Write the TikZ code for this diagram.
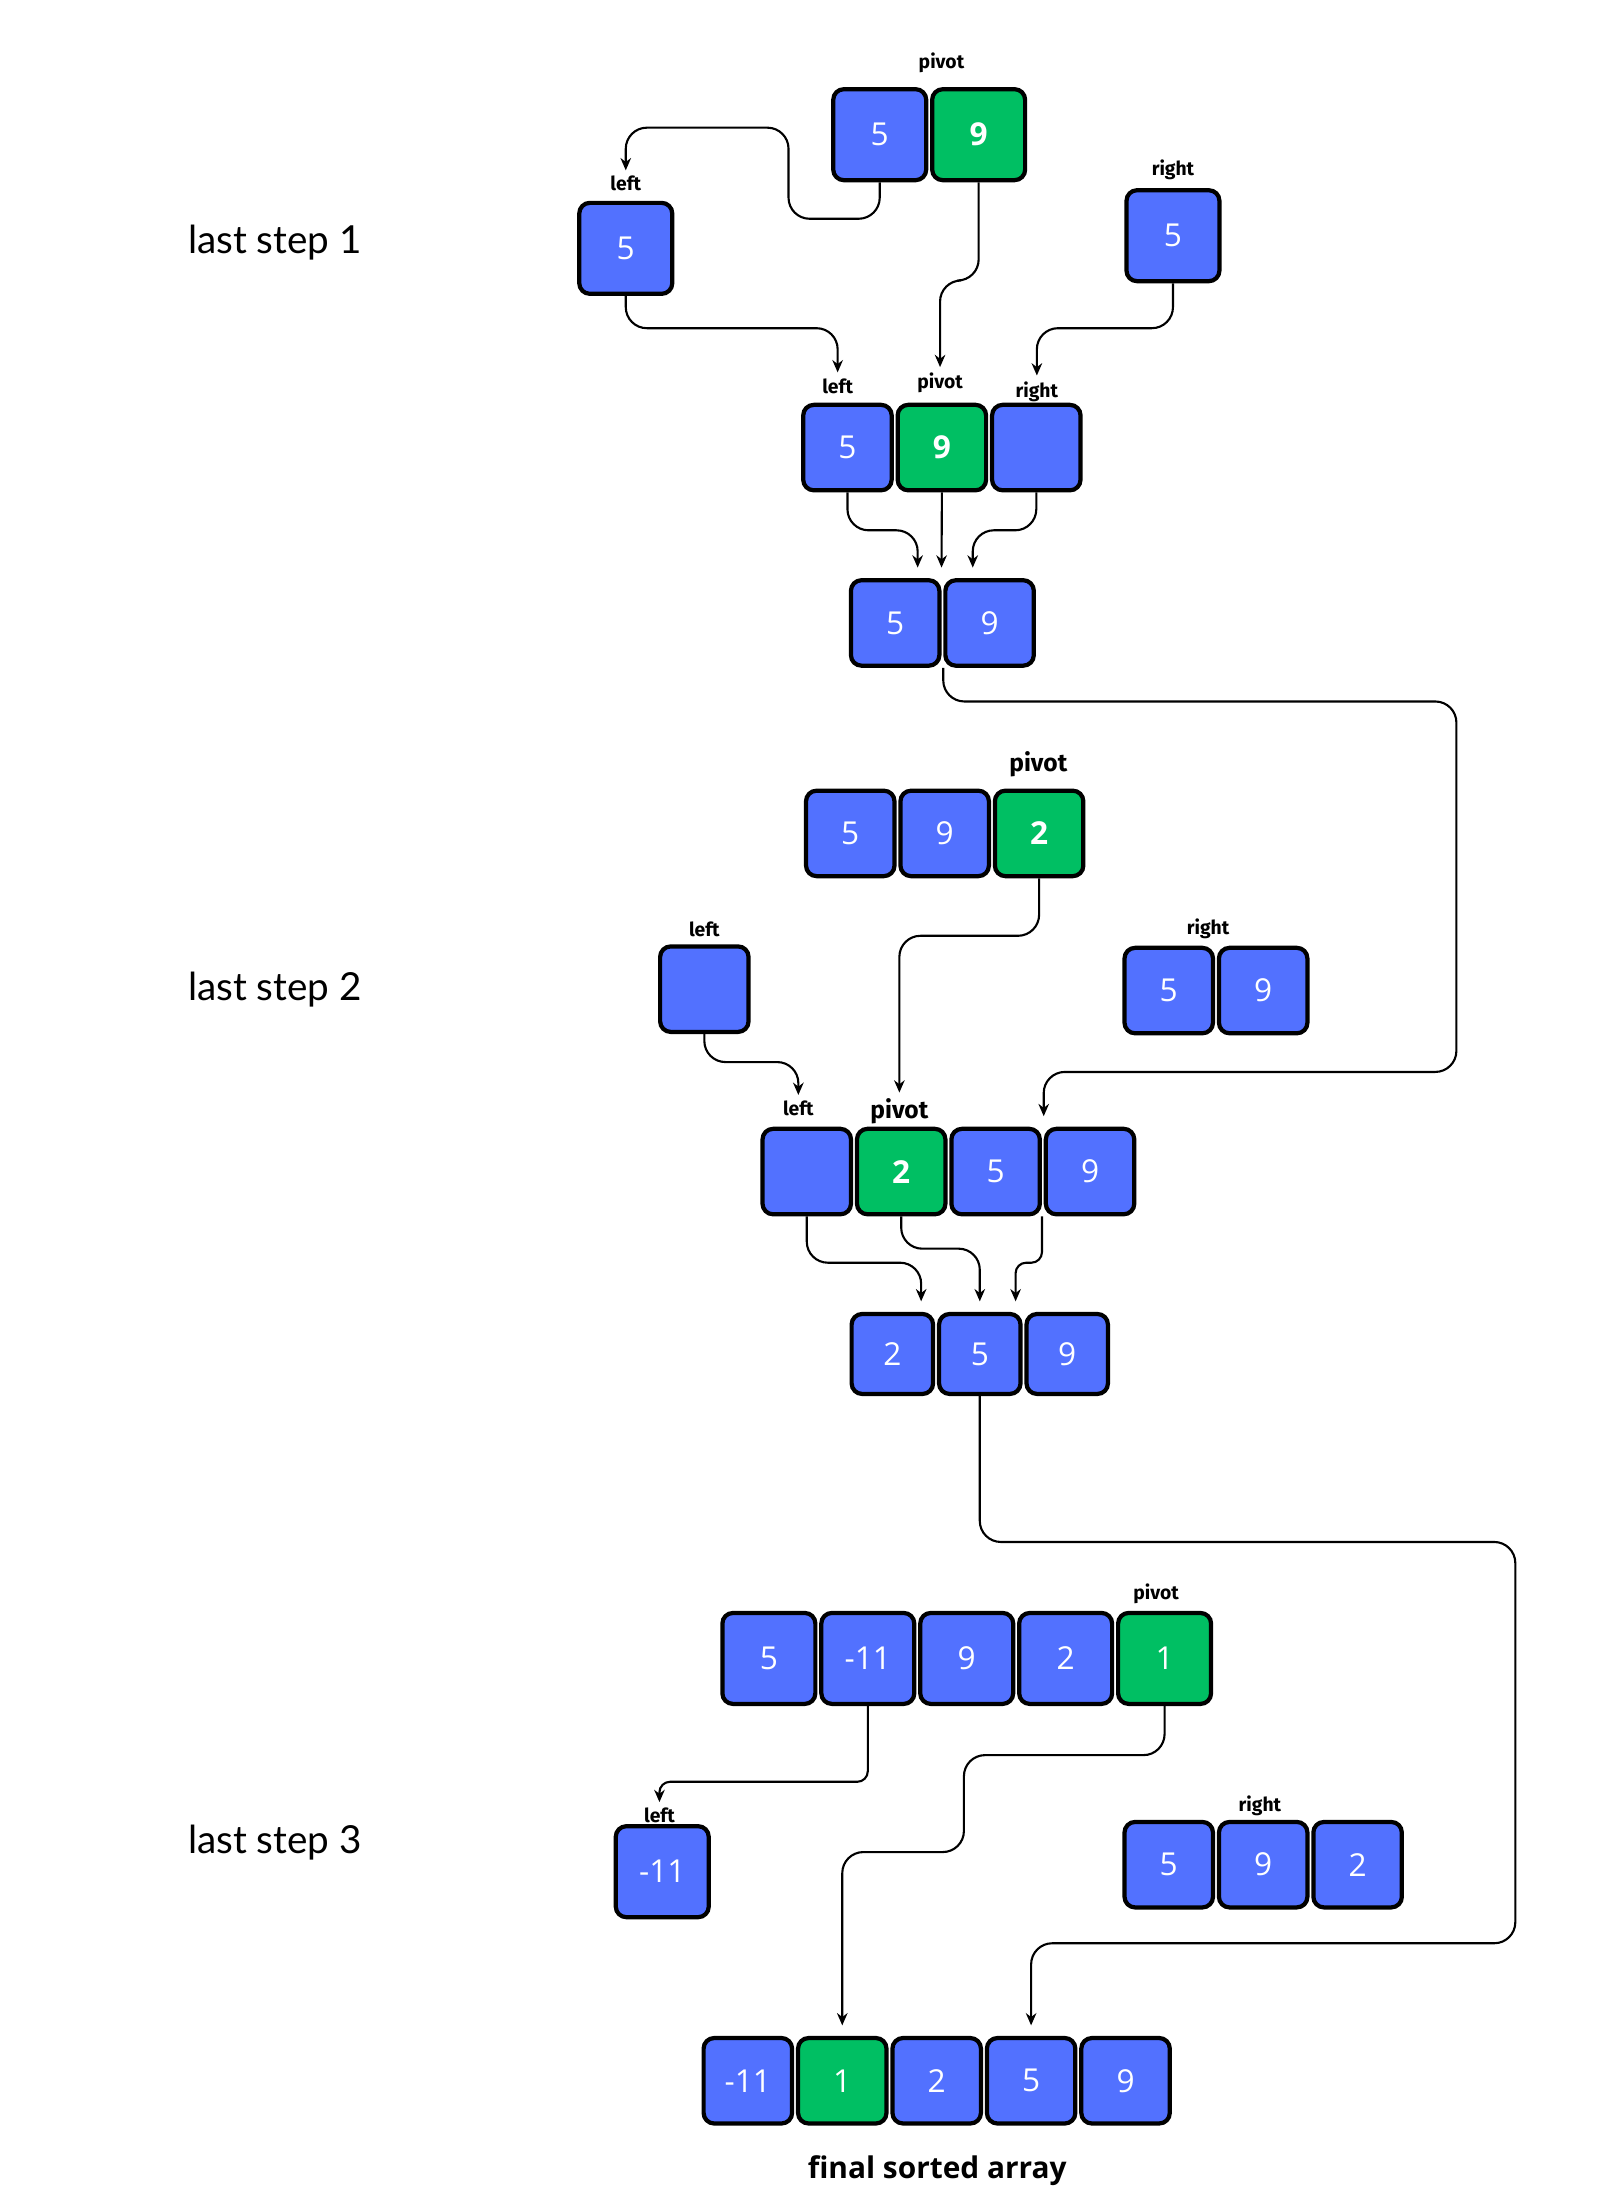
\documentclass[tikz,border=0pt]{standalone}
\usepackage{fontspec}
\setmainfont{Open Sans}
\newfontfamily\tagfont{Fira Sans}
\newfontfamily\stepfont{Lato}
\usepackage{xcolor}
\usepackage{tikz}
\usetikzlibrary{arrows.meta,positioning,calc}
\definecolor{cellblue}{HTML}{5271FF}
\definecolor{pivotgreen}{HTML}{00BF63}

\begin{document}
\begin{tikzpicture}[
    x=0.014035cm, y=-0.014035cm,
    node distance=0.5pt,
    cell/.style={rectangle, rounded corners=3pt, minimum width=0.885cm, minimum height=0.855cm, inner sep=0pt, draw=black, line width=1.2pt, fill=cellblue, text=white, font=\fontsize{9}{10}\selectfont},
    bigcell/.style={cell, minimum width=0.93cm, minimum height=0.91cm},
    smallcell/.style={cell, minimum width=0.815cm, minimum height=0.80cm},
    pivotcell/.style={fill=pivotgreen},
    boldnum/.style={font=\fontsize{9}{10}\selectfont\bfseries},
    tag/.style={inner sep=0pt, font=\tagfont\fontsize{5.5}{6}\selectfont\bfseries},
    bigtag/.style={tag, font=\tagfont\fontsize{7}{8}\selectfont\bfseries},
    steptitle/.style={font=\stepfont\fontsize{11}{12}\selectfont},
    arrow/.style={line width=0.6pt, ->, >={Stealth[length=3.5pt, width=3pt]}, rounded corners=6pt, shorten >=1.5pt},
    tobox/.style={arrow, shorten >=3pt},
    tight/.style={rounded corners=3pt}
]
\fill[white] (0,0) rectangle (1140,1568);
\useasboundingbox (0,0) rectangle (1140,1568);

% Nodes
% last step 1
\node (s1) [steptitle] at (196,173) {last step 1};
\node (a1) [bigcell] at (627,96) {5};
\node (a2) [bigcell, pivotcell, boldnum, right=of a1] {9};
\node (pA) [tag] at (671,45) {pivot};
\node (l1) [bigcell] at (446,177) {5};
\node (lL1) [tag] at (446,131) {left};
\node (r1) [bigcell] at (836,168) {5};
\node (lR1) [tag] at (836,121) {right};

\node (b1) [cell] at (604,319) {5};
\node (b2) [cell, pivotcell, boldnum, right=of b1] {9};
\node (b3) [cell, right=of b2] {};
\node (lB1) [tag] at (597,275) {left};
\node (lB2) [tag] at (670,273) {pivot};
\node (lB3) [tag] at (739,279) {right};

\node (c1) [cell] at (638,444) {5};
\node (c2) [cell, right=of c1] {9};

% last step 2
\node (s2) [steptitle] at (196,705) {last step 2};
\node (d1) [cell] at (606,594) {5};
\node (d2) [cell, right=of d1] {9};
\node (d3) [cell, pivotcell, boldnum, right=of d2] {2};
\node (pD) [bigtag] at (740,545) {pivot};
\node (l2) [cell] at (502,705) {};
\node (lL2) [tag] at (502,662) {left};
\node (r2) [cell] at (833,706) {5};
\node (r3) [cell, right=of r2] {9};
\node (lR2) [tag] at (861,662) {right};

\node (e1) [cell] at (575,835) {};
\node (e2) [cell, pivotcell, boldnum, right=of e1] {2};
\node (e3) [cell, right=of e2] {5};
\node (e4) [cell, right=of e3] {9};
\node (lE1) [tag] at (569,790) {left};
\node (lE2) [bigtag] at (641,792) {pivot};

\node (f1) [smallcell] at (636,965) {2};
\node (f2) [smallcell, right=of f1] {5};
\node (f3) [smallcell, right=of f2] {9};

% last step 3
\node (s3) [steptitle] at (196,1313) {last step 3};
\node (g1) [bigcell] at (548,1182) {5};
\node (g2) [bigcell, right=of g1] {-11};
\node (g3) [bigcell, right=of g2] {9};
\node (g4) [bigcell, right=of g3] {2};
\node (g5) [bigcell, pivotcell, right=of g4] {1};
\node (pG) [tag] at (824,1136) {pivot};
\node (l3) [bigcell] at (472,1334) {-11};
\node (lL3) [tag] at (470,1294) {left};
\node (rr1) [cell] at (833,1329) {5};
\node (rr2) [cell, right=of rr1] {9};
\node (rr3) [cell, right=of rr2] {2};
\node (lRR) [tag] at (898,1287) {right};

\node (h1) [cell] at (533,1483) {-11};
\node (h2) [cell, pivotcell, right=of h1] {1};
\node (h3) [cell, right=of h2] {2};
\node (h4) [cell, right=of h3] {5};
\node (h5) [cell, right=of h4] {9};
\node (final) [font=\bfseries\fontsize{8.5}{10}\selectfont] at (668,1547) {final sorted array};

% Arrows
\draw [arrow] (a1.south) -- ++(0,26) -| (562,91) -| (lL1.north);
\draw [arrow] (a2.south) -- ++(0,70) -| (lB2.north);
\draw [arrow] (l1.south) -- ++(0,23) -| (lB1.north);
\draw [arrow] (r1.south) -- ++(0,32) -| (lB3.north);
\draw [tobox] (b1.south) -- ++(0,27) -| ($(c1.north east)+(-17,0)$);
\draw [tobox] (b2.south) -- (c1.north east);
\draw [tobox] (b3.south) -- ++(0,27) -| ($(c2.north)+(-12,0)$);
\draw [tobox] (c2.south west) -- ++(0,24) -| (1038,764) -| (e4.north west);

\draw [arrow] (d3.south) -- ++(0,41) -| (lE2.north);
\draw [arrow] (l2.south) -- ++(0,20) -| (lE1.north);
\draw [tobox] (e1.south) -- ++(0,33) -| ($(f1.north east)+(-10,0)$);
\draw [tobox] (e2.south) -- ++(0,23) -| (f2.north);
\draw [tobox, tight] (e3.south east) -- ++(0,33) -| ($(f2.north east)+(-5,0)$);
\draw [tobox] (f2.south) -- ++(0,104) -| (1080,1385) -| (h4.north);

\draw [arrow, tight] (g2.south) -- ++(0,54) -| (lL3.north);
\draw [tobox] (g5.south) -- ++(0,35) -| (687,1320) -| (h2.north);

\end{tikzpicture}
\end{document}
